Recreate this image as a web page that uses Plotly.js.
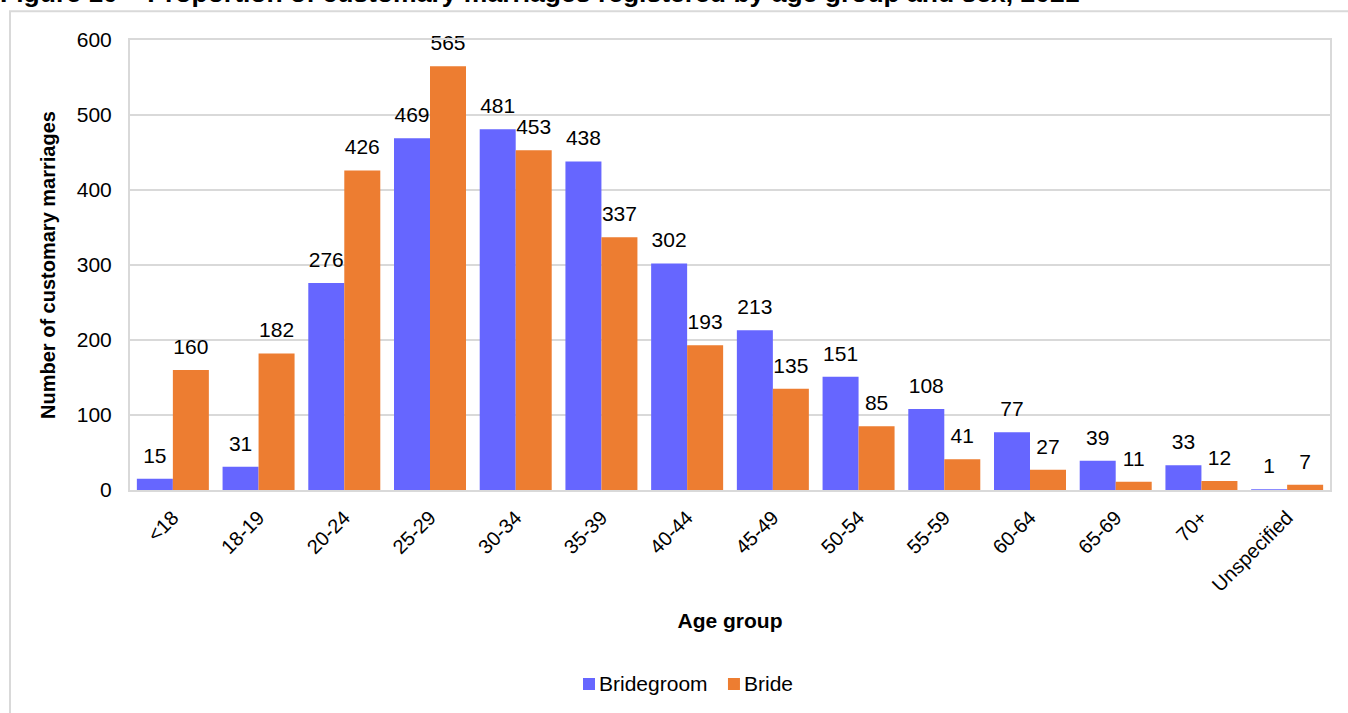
<!DOCTYPE html>
<html>
<head>
<meta charset="utf-8">
<script src="https://cdn.plot.ly/plotly-3.0.1.min.js"></script>
<style>
html,body{margin:0;padding:0;background:#fff;}
#chart{width:1348px;height:713px;}
</style>
</head>
<body>
<div id="chart"></div>
<script>
const categories = ["<18","18-19","20-24","25-29","30-34","35-39","40-44","45-49","50-54","55-59","60-64","65-69","70+","Unspecified"];
const bridegroom = [15,31,276,469,481,438,302,213,151,108,77,39,33,1];
const bride = [160,182,426,565,453,337,193,135,85,41,27,11,12,7];
const seriesNames = ["Bridegroom","Bride"];
const seriesColors = ["#6666FF","#ED7D31"];
const yTicks = [0,100,200,300,400,500,600];

const font = "Arial, 'Liberation Sans', sans-serif";
const labelFont = {size:21,color:'#000',family:font};
const traces = [
  {type:'bar', name:seriesNames[0], x:categories, y:bridegroom, marker:{color:seriesColors[0]}, showlegend:false},
  {type:'bar', name:seriesNames[1], x:categories, y:bride, marker:{color:seriesColors[1]}, showlegend:false},
  {type:'scatter', mode:'markers+text', showlegend:false, x:categories, y:bridegroom, text:bridegroom.map(String),
   textposition:'top center', marker:{size:16, opacity:0}, textfont:labelFont, cliponaxis:false, hoverinfo:'skip'},
  {type:'scatter', mode:'markers+text', showlegend:false, x:categories, y:bride, text:bride.map(String),
   textposition:'top center', marker:{size:16, opacity:0}, textfont:labelFont, cliponaxis:false, hoverinfo:'skip'}
];

// custom legend (small squares placed close to the labels, as in the reference)
const legY0 = -0.4178, legY1 = -0.4444, legYc = -0.4311;
const legItems = [{x0:0.3775, x1:0.3875, tx:0.3908}, {x0:0.4983, x1:0.5083, tx:0.5117}];
const legShapes = legItems.map((it,i)=>({type:'rect', xref:'paper', yref:'paper', x0:it.x0, x1:it.x1, y0:legY1, y1:legY0,
  fillcolor:seriesColors[i], line:{width:0}}));
const legAnn = legItems.map((it,i)=>({xref:'paper', yref:'paper', x:it.tx, xanchor:'left', y:legYc, yanchor:'middle',
  showarrow:false, text:seriesNames[i], font:{size:21, family:font, color:'#000'}, xshift:-2}));

const layout = {
  width:1348, height:713,
  margin:{l:130, r:18, t:40, b:223},
  paper_bgcolor:'#fff', plot_bgcolor:'#fff',
  font:{family:font, color:'#000'},
  barmode:'group', bargap:0.16, bargroupgap:0,
  scattermode:'group', scattergap:0.16,
  showlegend:false,
  xaxis:{type:'category', tickangle:-45, tickfont:{size:20}, showline:true, linecolor:'#d9d9d9', linewidth:2, mirror:true,
    ticks:'', ticklabelstandoff:6, title:{text:'<b>Age group</b>', font:{size:21}, standoff:18}},
  yaxis:{range:[0,600], tickvals:yTicks, ticktext:yTicks.map(String), tickfont:{size:21}, showgrid:true, gridcolor:'#d9d9d9', gridwidth:1.5,
    showline:true, linecolor:'#d9d9d9', linewidth:2, mirror:true, zeroline:false, ticks:'', ticklabelstandoff:12,
    title:{text:'<b>Number of customary marriages</b>', font:{size:20}, standoff:16}},
  shapes:[{type:'rect', xref:'paper', yref:'paper', x0:-0.1, x1:1.1, y0:-0.6, y1:1.064, line:{color:'#d9d9d9', width:2}, fillcolor:'rgba(0,0,0,0)', layer:'below'}].concat(legShapes),
  annotations:[{xref:'paper', yref:'paper', x:-0.11, xanchor:'left', y:1.066, yanchor:'bottom', showarrow:false,
    text:'<b>Figure 10 – Proportion of customary marriages registered by age group and sex, 2021</b>', font:{size:26.5, family:font}}].concat(legAnn)
};
Plotly.newPlot('chart', traces, layout, {displayModeBar:false, staticPlot:true});
</script>
</body>
</html>
